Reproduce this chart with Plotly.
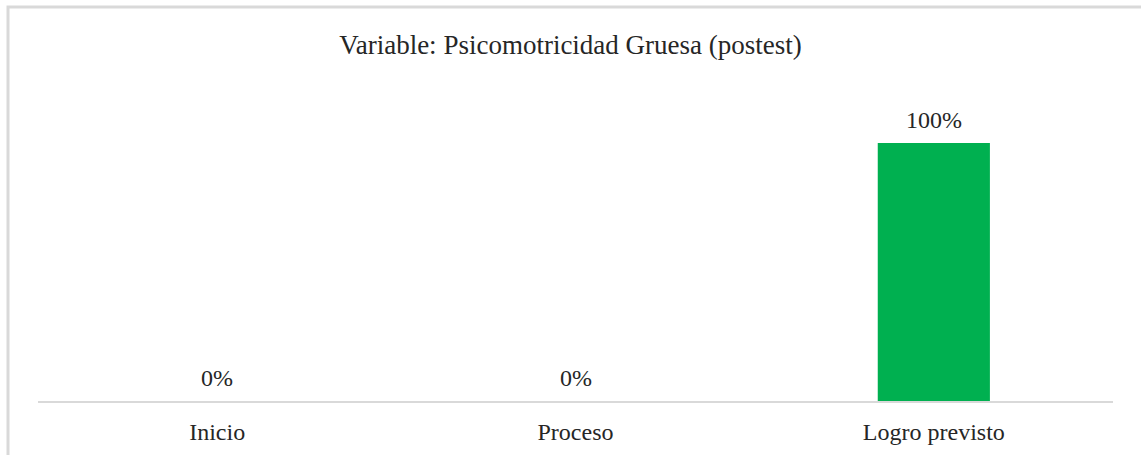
import plotly.graph_objects as go

categories = ["Inicio", "Proceso", "Logro previsto"]
values = [0, 0, 100]
labels = [f"{v}%" for v in values]

serif = "Liberation Serif, Times New Roman, serif"
text_color = "#262626"

fig = go.Figure(
    go.Bar(
        x=categories,
        y=values,
        cliponaxis=False,
        marker=dict(color="#00B050", line=dict(width=0)),
        hoverinfo="skip",
    )
)

# value labels above each bar
for cat, val, lab in zip(categories, values, labels):
    fig.add_annotation(
        x=cat,
        y=val,
        text=lab,
        showarrow=False,
        yanchor="bottom",
        yshift=8,
        font=dict(family=serif, size=24, color=text_color),
    )

fig.update_layout(
    width=1141,
    height=455,
    margin=dict(l=38, r=28, t=90, b=54),
    paper_bgcolor="white",
    plot_bgcolor="white",
    bargap=0.687,
    showlegend=False,
    title=dict(
        text="Variable: Psicomotricidad Gruesa (postest)",
        x=0.5,
        xanchor="center",
        y=1 - 45 / 455,
        yanchor="middle",
        font=dict(family=serif, size=27, color=text_color),
    ),
    xaxis=dict(
        showline=True,
        linecolor="#d9d9d9",
        linewidth=2,
        showgrid=False,
        ticks="",
        automargin=False,
        ticklabelstandoff=8,
        tickfont=dict(family=serif, size=24, color=text_color),
        fixedrange=True,
    ),
    yaxis=dict(
        range=[0, 120.5],
        visible=False,
        showgrid=False,
        zeroline=False,
        fixedrange=True,
    ),
    shapes=[
        dict(
            type="rect",
            xref="paper",
            yref="paper",
            x0=-30 / 1075,
            x1=1.2,
            y0=-0.5,
            y1=1 + 83 / 311,
            line=dict(color="#d9d9d9", width=3),
            fillcolor="rgba(0,0,0,0)",
            layer="below",
        )
    ],
)

fig.write_html("out.html")
